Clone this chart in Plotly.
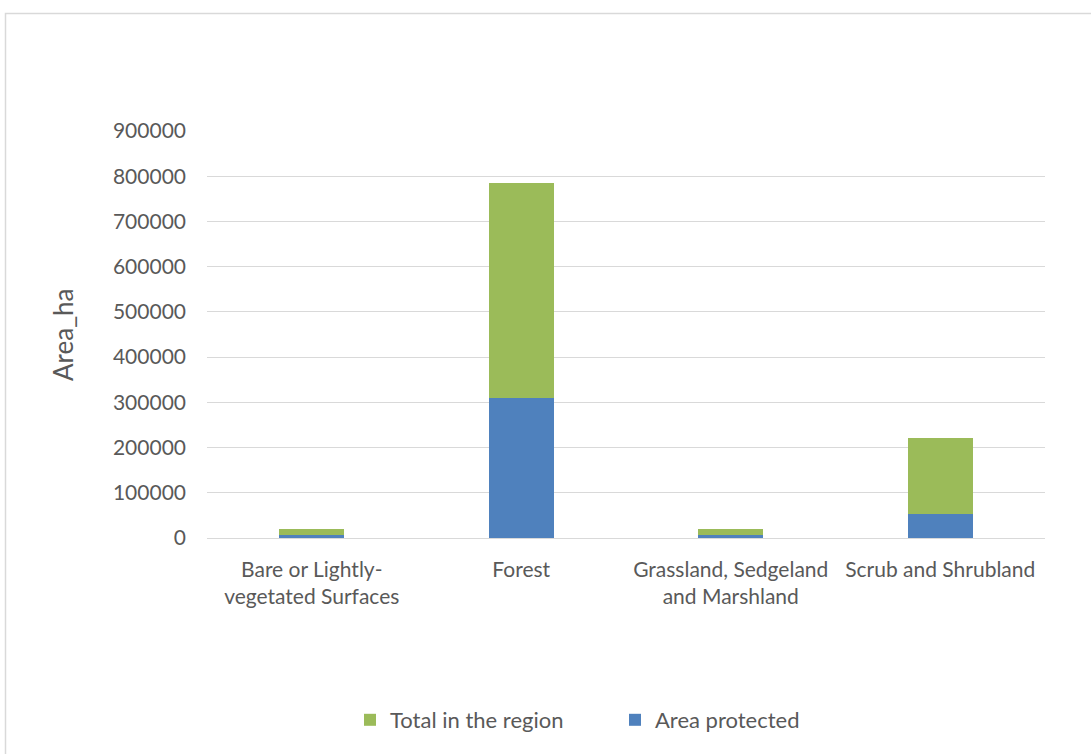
import plotly.graph_objects as go

# Land cover classes and their areas (hectares)
categories = [
    "Bare or Lightly-<br>vegetated Surfaces",
    "Forest",
    "Grassland, Sedgeland<br>and Marshland",
    "Scrub and Shrubland",
]
area_protected = [7000, 310000, 6000, 54000]
total_in_region = [13000, 474000, 13500, 166500]

GREEN = "#9bbb59"
BLUE = "#4f81bd"
TEXT = "#595959"
GRID = "#d9d9d9"
FONT = "Lato"

W, H = 1091, 754
L, R, T, B = 207, 46, 131, 216
pw, ph = W - L - R, H - T - B


def px(x):
    return (x - L) / pw


def py(y):
    return (H - B - y) / ph


fig = go.Figure()
fig.add_trace(go.Bar(
    x=categories, y=area_protected, name="Area protected",
    marker=dict(color=BLUE, line=dict(width=0)),
))
fig.add_trace(go.Bar(
    x=categories, y=total_in_region, name="Total in the region",
    marker=dict(color=GREEN, line=dict(width=0)),
))

fig.update_layout(
    width=W, height=H,
    margin=dict(l=L, r=R, t=T, b=B),
    barmode="stack",
    bargap=0.69,
    paper_bgcolor="white",
    plot_bgcolor="white",
    font=dict(family=FONT, size=21, color=TEXT),
    showlegend=True,
    legend=dict(
        orientation="h", traceorder="reversed",
        x=px(350), xanchor="left", y=py(720), yanchor="middle",
        font=dict(family=FONT, size=22, color=TEXT),
        entrywidth=220, entrywidthmode="pixels",
        bgcolor="rgba(0,0,0,0)",
    ),
    xaxis=dict(
        showgrid=False, showline=False, zeroline=False,
        tickfont=dict(family=FONT, size=21, color=TEXT),
        ticklabelstandoff=17,
        fixedrange=True,
    ),
    yaxis=dict(
        range=[0, 900000], dtick=100000, tickformat="d",
        showgrid=True, gridcolor=GRID, gridwidth=1,
        zeroline=True, zerolinecolor=GRID, zerolinewidth=1,
        showline=False,
        tickfont=dict(family=FONT, size=21, color=TEXT),
        ticklabelstandoff=20,
        automargin=False,
    ),
    annotations=[dict(
        text="Area_ha", xref="paper", yref="paper",
        x=px(63), y=py(335), xanchor="center", yanchor="middle",
        textangle=-90, showarrow=False,
        font=dict(family=FONT, size=26, color=TEXT),
    )],
    shapes=[dict(
        type="rect", xref="paper", yref="paper",
        x0=px(5.5), x1=px(1100), y0=py(770), y1=py(13.5),
        line=dict(color=GRID, width=1.5), fillcolor="rgba(0,0,0,0)",
        layer="below",
    )],
)

fig.write_html("out.html")
